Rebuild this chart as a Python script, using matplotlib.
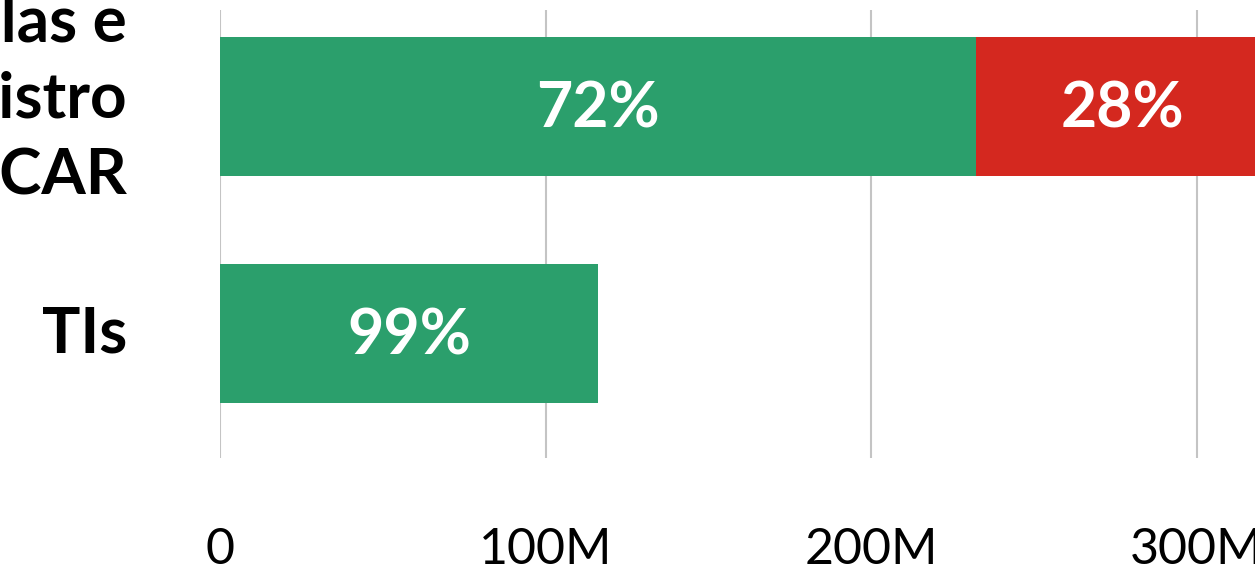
import matplotlib
matplotlib.use('agg')
import matplotlib.pyplot as plt

# data (area, in hectares)
categories = ["Parcelas e\ncom registro\nno CAR", "TIs"]
green_vals = [232e6, 116e6]
red_vals = [90e6, 0]
green_pct = ["72%", "99%"]
red_pct = ["28%", ""]
xticks = [0, 100e6, 200e6, 300e6]
xtick_labels = ["0", "100M", "200M", "300M"]

GREEN = "#2b9f6c"
RED = "#d4281f"
FONT = ["Lato", "DejaVu Sans"]

fig = plt.figure(figsize=(12.55, 5.69), dpi=100)
ax = fig.add_axes([220/1255, (569-458)/569, 1 - 220/1255, 448/569])

ypos = list(range(len(categories)))
ax.barh(ypos, green_vals, height=0.612, color=GREEN, zorder=2)
ax.barh(ypos, red_vals, left=green_vals, height=0.612, color=RED, zorder=2)

pct_kw = dict(xycoords="data", textcoords="offset points", ha="center", va="center",
              color="white", fontsize=45, fontweight="bold", family=FONT, zorder=3)
for i in ypos:
    if green_pct[i]:
        ax.annotate(green_pct[i], xy=(green_vals[i] / 2, i), xytext=(0, -2), **pct_kw)
    if red_pct[i]:
        ax.annotate(red_pct[i], xy=(green_vals[i] + red_vals[i] / 2, i), xytext=(0, -2), **pct_kw)
    ax.annotate(categories[i], xy=(0, i), xycoords=("axes fraction", "data"),
                xytext=(-93 * 0.72, 5 if i == 0 else 0), textcoords="offset points",
                ha="right", va="center", fontsize=46, fontweight="bold",
                family=FONT, linespacing=1.4, annotation_clip=False)

ax.set_xlim(0, 317.8e6)
ax.set_ylim(1.548, -0.425)
ax.set_xticks(xticks)
ax.set_xticklabels(xtick_labels, fontsize=36, fontweight="normal", family=FONT)
ax.tick_params(axis="x", length=0, pad=50)
ax.set_yticks([])
ax.grid(axis="x", color="#c4c4c4", linewidth=1.5, zorder=0)
for s in ax.spines.values():
    s.set_visible(False)

fig.savefig("out.png", dpi=100)
